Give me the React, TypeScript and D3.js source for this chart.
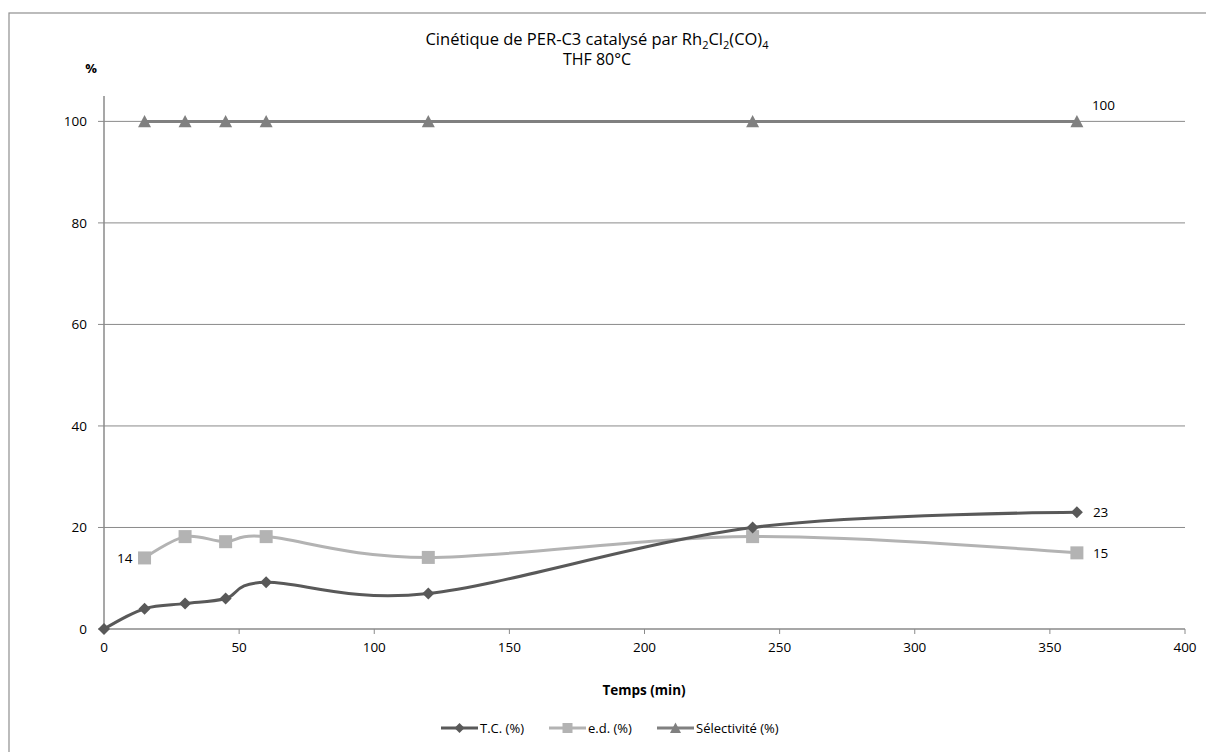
import React from "react";
import * as d3 from "d3";

const times = [0, 15, 30, 45, 60, 120, 240, 360];
const tcValues = [0, 4, 5, 6, 9.2, 7, 20, 23];
const edTimes = [15, 30, 45, 60, 120, 240, 360];
const edValues = [14, 18.2, 17.2, 18.2, 14.1, 18.2, 15];
const selTimes = [15, 30, 45, 60, 120, 240, 360];
const selValues = [100, 100, 100, 100, 100, 100, 100];
const xTicks = [0, 50, 100, 150, 200, 250, 300, 350, 400];
const yTicks = [0, 20, 40, 60, 80, 100];
const legendNames = ["T.C. (%)", "e.d. (%)", "Sélectivité (%)"];

const FONT = "'Open Sans', Lato, sans-serif";
const C_TC = "#595959";
const C_ED = "#b3b3b3";
const C_SEL = "#808080";
const C_GRID = "#8a8a8a";

function Diamond({ x, y, s = 6, fill }: { x: number; y: number; s?: number; fill: string }) {
  return <path d={`M${x},${y - s}L${x + s},${y}L${x},${y + s}L${x - s},${y}Z`} fill={fill} />;
}
function Square({ x, y, s = 6.5, fill }: { x: number; y: number; s?: number; fill: string }) {
  return <rect x={x - s} y={y - s} width={2 * s} height={2 * s} fill={fill} />;
}
function Triangle({ x, y, s = 6.5, fill }: { x: number; y: number; s?: number; fill: string }) {
  return <path d={`M${x},${y - s}L${x + s},${y + s * 0.9}L${x - s},${y + s * 0.9}Z`} fill={fill} />;
}

export default function App() {
  const x = d3.scaleLinear().domain([0, 400]).range([104, 1185]);
  const y = d3.scaleLinear().domain([0, 105]).range([629, 96]);
  const line = d3
    .line<[number, number]>()
    .x((d) => x(d[0]))
    .y((d) => y(d[1]))
    .curve(d3.curveCardinal.tension(0));

  const tc: [number, number][] = times.map((t, i) => [t, tcValues[i]]);
  const ed: [number, number][] = edTimes.map((t, i) => [t, edValues[i]]);
  const sel: [number, number][] = selTimes.map((t, i) => [t, selValues[i]]);

  const legendY = 728;
  const legendItems = [
    { x: 441, name: legendNames[0], color: C_TC, kind: "d" },
    { x: 549, name: legendNames[1], color: C_ED, kind: "s" },
    { x: 657, name: legendNames[2], color: C_SEL, kind: "t" },
  ];

  return (
    <svg
      width={1206}
      height={752}
      style={{ position: "absolute", left: 0, top: 0, background: "#fff" }}
      fontFamily={FONT}
    >
      <rect x={9} y={13} width={1210} height={760} fill="#fff" stroke="#8f8f8f" strokeWidth={1.2} />

      {/* title */}
      <text x={597} y={45} textAnchor="middle" fontSize={16.5} fill="#000">
        Cinétique de PER-C3 catalysé par Rh
        <tspan fontSize={11} dy={4}>2</tspan>
        <tspan dy={-4}>Cl</tspan>
        <tspan fontSize={11} dy={4}>2</tspan>
        <tspan dy={-4}>(CO)</tspan>
        <tspan fontSize={11} dy={4}>4</tspan>
      </text>
      <text x={597} y={65} textAnchor="middle" fontSize={16} fill="#000">
        THF 80°C
      </text>

      {/* gridlines */}
      {yTicks.filter((t) => t > 0).map((t) => (
        <line key={t} x1={x(0)} x2={x(400)} y1={y(t)} y2={y(t)} stroke={C_GRID} strokeWidth={1} />
      ))}

      {/* axes */}
      <line x1={x(0)} x2={x(0)} y1={96} y2={y(0)} stroke={C_GRID} strokeWidth={1.5} />
      <line x1={x(0)} x2={x(400)} y1={y(0)} y2={y(0)} stroke={C_GRID} strokeWidth={1.5} />
      {yTicks.map((t) => (
        <g key={t}>
          <line x1={x(0) - 6} x2={x(0)} y1={y(t)} y2={y(t)} stroke={C_GRID} strokeWidth={1} />
          <text x={87} y={y(t) + 5} textAnchor="end" fontSize={13.5} fill="#000">
            {t}
          </text>
        </g>
      ))}
      {xTicks.map((t) => (
        <g key={t}>
          <line x1={x(t)} x2={x(t)} y1={y(0)} y2={y(0) + 5} stroke={C_GRID} strokeWidth={1} />
          <text x={x(t)} y={652} textAnchor="middle" fontSize={13.5} fill="#000">
            {t}
          </text>
        </g>
      ))}
      <text x={91} y={73} textAnchor="middle" fontSize={13} fontWeight="bold" fill="#000">
        %
      </text>
      <text x={644} y={695} textAnchor="middle" fontSize={13.5} fontWeight="bold" fill="#000">
        Temps (min)
      </text>

      {/* series */}
      <path d={line(sel) ?? ""} fill="none" stroke={C_SEL} strokeWidth={3} />
      <path d={line(ed) ?? ""} fill="none" stroke={C_ED} strokeWidth={3} />
      <path d={line(tc) ?? ""} fill="none" stroke={C_TC} strokeWidth={3} />
      {sel.map((d, i) => (
        <Triangle key={i} x={x(d[0])} y={y(d[1])} fill={C_SEL} />
      ))}
      {ed.map((d, i) => (
        <Square key={i} x={x(d[0])} y={y(d[1])} fill={C_ED} />
      ))}
      {tc.map((d, i) => (
        <Diamond key={i} x={x(d[0])} y={y(d[1])} fill={C_TC} />
      ))}

      {/* data labels */}
      <text x={x(15) - 12} y={y(edValues[0]) + 5} textAnchor="end" fontSize={13.5} fill="#000">
        {edValues[0]}
      </text>
      <text x={x(360) + 16} y={y(tcValues[7]) + 5} textAnchor="start" fontSize={13.5} fill="#000">
        {tcValues[7]}
      </text>
      <text x={x(360) + 16} y={y(edValues[6]) + 5} textAnchor="start" fontSize={13.5} fill="#000">
        {edValues[6]}
      </text>
      <text x={x(360) + 15} y={y(selValues[6]) - 11} textAnchor="start" fontSize={13.5} fill="#000">
        {selValues[6]}
      </text>

      {/* legend */}
      {legendItems.map((it) => (
        <g key={it.name}>
          <line x1={it.x} x2={it.x + 37} y1={legendY} y2={legendY} stroke={it.color} strokeWidth={3} />
          {it.kind === "d" && <Diamond x={it.x + 18.5} y={legendY} s={5} fill={it.color} />}
          {it.kind === "s" && <Square x={it.x + 18.5} y={legendY} s={5} fill={it.color} />}
          {it.kind === "t" && <Triangle x={it.x + 18.5} y={legendY} s={5.5} fill={it.color} />}
          <text x={it.x + 39} y={legendY + 5} fontSize={13} fill="#000">
            {it.name}
          </text>
        </g>
      ))}
    </svg>
  );
}
